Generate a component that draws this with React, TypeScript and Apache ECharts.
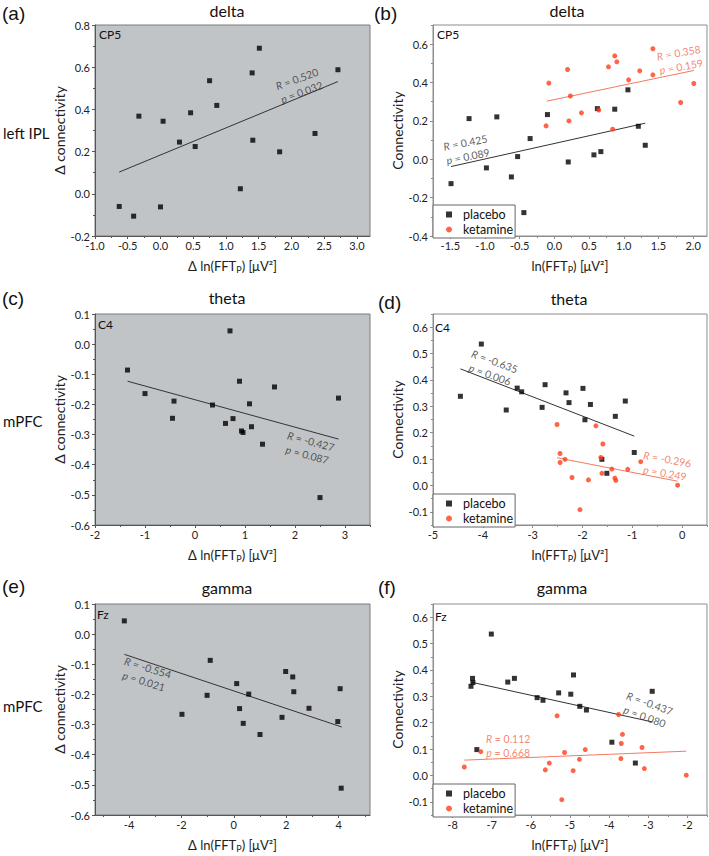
import React, { useEffect, useRef } from 'react';
import * as echarts from 'echarts';

const FONT = 'Lato, "Open Sans", sans-serif';

// ---------- (a) delta, left IPL, CP5 : Δ connectivity vs Δ ln(FFT_P)
const aDx = [-0.63, -0.41, -0.33, 0.0, 0.04, 0.29, 0.46, 0.53, 0.75, 0.86, 1.22, 1.4, 1.41, 1.51, 1.82, 2.36, 2.71];
const aDy = [-0.06, -0.106, 0.368, -0.062, 0.344, 0.245, 0.384, 0.224, 0.536, 0.419, 0.024, 0.573, 0.254, 0.69, 0.199, 0.286, 0.588];
const aFit = [[-0.63, 0.103], [2.71, 0.532]];
const aStats = ['0.520', '0.032'];

// ---------- (b) delta, CP5 : connectivity vs ln(FFT_P)
const bPx = [-1.49, -1.23, -0.98, -0.83, -0.62, -0.53, -0.44, -0.35, -0.1, 0.2, 0.57, 0.62, 0.67, 0.87, 1.06, 1.21, 1.31];
const bPy = [-0.127, 0.212, -0.045, 0.221, -0.092, 0.014, -0.278, 0.108, 0.233, -0.014, 0.023, 0.264, 0.04, 0.261, 0.362, 0.172, 0.073];
const bKx = [-0.12, -0.08, 0.19, 0.21, 0.23, 0.39, 0.64, 0.78, 0.84, 0.87, 0.9, 1.07, 1.23, 1.42, 1.42, 1.82, 2.01];
const bKy = [0.174, 0.397, 0.468, 0.2, 0.33, 0.242, 0.257, 0.482, 0.157, 0.539, 0.508, 0.414, 0.461, 0.576, 0.44, 0.296, 0.395];
const bFitP = [[-1.49, -0.038], [1.31, 0.188]];
const bFitK = [[-0.11, 0.303], [2.01, 0.463]];
const bStatsP = ['0.425', '0.089'];
const bStatsK = ['0.358', '0.159'];

// ---------- (c) theta, mPFC, C4
const cDx = [-1.35, -1.0, -0.42, -0.45, 0.35, 0.61, 0.7, 0.76, 0.89, 0.93, 0.96, 1.09, 1.13, 1.35, 1.59, 2.5, 2.87];
const cDy = [-0.086, -0.164, -0.189, -0.246, -0.202, -0.263, 0.044, -0.247, -0.123, -0.288, -0.293, -0.198, -0.274, -0.332, -0.142, -0.509, -0.179];
const cFit = [[-1.35, -0.123], [2.87, -0.315]];
const cStats = ['-0.427', '0.087'];

// ---------- (d) theta, C4
const dPx = [-4.45, -4.03, -3.53, -3.31, -3.22, -2.81, -2.75, -2.33, -2.27, -1.99, -1.95, -1.84, -1.61, -1.51, -1.34, -1.14, -0.96];
const dPy = [0.338, 0.536, 0.286, 0.369, 0.355, 0.296, 0.382, 0.351, 0.314, 0.368, 0.249, 0.307, 0.099, 0.046, 0.262, 0.32, 0.125];
const dKx = [-2.51, -2.45, -2.45, -2.35, -2.21, -2.05, -1.88, -1.73, -1.63, -1.61, -1.59, -1.41, -1.35, -1.33, -1.09, -0.83, -0.09];
const dKy = [0.231, 0.121, 0.087, 0.099, 0.03, -0.092, 0.021, 0.226, 0.106, 0.046, 0.157, 0.062, 0.028, 0.019, 0.061, 0.09, 0.001];
const dFitP = [[-4.45, 0.442], [-0.96, 0.187]];
const dFitK = [[-2.51, 0.105], [-0.09, 0.016]];
const dStatsP = ['-0.635', '0.006'];
const dStatsK = ['-0.296', '0.249'];

// ---------- (e) gamma, mPFC, Fz
const eDx = [-4.18, -1.98, -1.02, -0.9, 0.11, 0.22, 0.36, 0.57, 1.0, 1.84, 1.98, 2.25, 2.29, 2.87, 3.97, 4.06, 4.1];
const eDy = [0.044, -0.266, -0.203, -0.087, -0.164, -0.247, -0.296, -0.199, -0.333, -0.276, -0.124, -0.142, -0.191, -0.246, -0.29, -0.181, -0.511];
const eFit = [[-4.18, -0.067], [4.12, -0.308]];
const eStats = ['-0.554', '0.021'];

// ---------- (f) gamma, Fz
const fPx = [-7.53, -7.49, -7.48, -7.38, -7.01, -6.59, -6.42, -5.84, -5.69, -5.29, -4.98, -4.91, -4.75, -4.58, -3.93, -3.33, -2.9];
const fPy = [0.338, 0.368, 0.352, 0.098, 0.536, 0.354, 0.368, 0.295, 0.285, 0.313, 0.308, 0.381, 0.262, 0.248, 0.126, 0.047, 0.319];
const fKx = [-7.7, -7.28, -5.63, -5.53, -5.33, -5.21, -5.14, -4.92, -4.76, -4.61, -3.76, -3.7, -3.69, -3.66, -3.16, -3.1, -2.03];
const fKy = [0.032, 0.09, 0.021, 0.047, 0.226, -0.092, 0.087, 0.018, 0.061, 0.098, 0.231, 0.064, 0.121, 0.156, 0.106, 0.026, 0.001];
const fFitP = [[-7.53, 0.354], [-2.9, 0.203]];
const fFitK = [[-7.7, 0.058], [-2.03, 0.092]];
const fStatsP = ['-0.437', '0.080'];
const fStatsK = ['0.112', '0.668'];

// ---------- tick labels
const aXTicks = [-1.0, -0.5, 0.0, 0.5, 1.0, 1.5, 2.0, 2.5, 3.0];
const aYTicks = [-0.2, 0.0, 0.2, 0.4, 0.6, 0.8];
const bXTicks = [-1.5, -1.0, -0.5, 0.0, 0.5, 1.0, 1.5, 2.0];
const bYTicks = [-0.4, -0.2, 0.0, 0.2, 0.4, 0.6];
const cXTicks = [-2, -1, 0, 1, 2, 3];
const cYTicks = [-0.6, -0.5, -0.4, -0.3, -0.2, -0.1, 0.0, 0.1];
const dXTicks = [-5, -4, -3, -2, -1, 0];
const dYTicks = [-0.1, 0.0, 0.1, 0.2, 0.3, 0.4, 0.5, 0.6];
const eXTicks = [-4, -2, 0, 2, 4];
const eYTicks = [-0.6, -0.5, -0.4, -0.3, -0.2, -0.1, 0.0, 0.1];
const fXTicks = [-8, -7, -6, -5, -4, -3, -2];
const fYTicks = [-0.1, 0.0, 0.1, 0.2, 0.3, 0.4, 0.5, 0.6];

// ---------- layout
const LEFT = [95, 433];
const WID = [275, 274];
const TOP = [25, 314, 604];
const HGT = 211;

const GRAY_BG = '#c0c4c7';
const GRAY_AXIS = '#555';
const WHITE_AXIS = '#8c8c8c';
const RED = '#ff3d1c';
const RED_LINE = '#f57a60';
const RED_TEXT = '#ee6a50';
const BLACK_TEXT = '#333';

type PanelDef = {
  col: number; row: number; gray: boolean;
  xMin: number; xMax: number; yMin: number; yMax: number;
  xTicks: number[]; yTicks: number[]; xDec: number; yDec: number;
};

const panels: PanelDef[] = [
  { col: 0, row: 0, gray: true, xMin: -1, xMax: 3.2, yMin: -0.2, yMax: 0.8, xTicks: aXTicks, yTicks: aYTicks, xDec: 1, yDec: 1 },
  { col: 1, row: 0, gray: false, xMin: -1.75, xMax: 2.2, yMin: -0.4, yMax: 0.7, xTicks: bXTicks, yTicks: bYTicks, xDec: 1, yDec: 1 },
  { col: 0, row: 1, gray: true, xMin: -2, xMax: 3.5, yMin: -0.6, yMax: 0.1, xTicks: cXTicks, yTicks: cYTicks, xDec: 0, yDec: 1 },
  { col: 1, row: 1, gray: false, xMin: -5, xMax: 0.5, yMin: -0.15, yMax: 0.65, xTicks: dXTicks, yTicks: dYTicks, xDec: 0, yDec: 1 },
  { col: 0, row: 2, gray: true, xMin: -5.3, xMax: 5.2, yMin: -0.6, yMax: 0.1, xTicks: eXTicks, yTicks: eYTicks, xDec: 0, yDec: 1 },
  { col: 1, row: 2, gray: false, xMin: -8.5, xMax: -1.5, yMin: -0.15, yMax: 0.65, xTicks: fXTicks, yTicks: fYTicks, xDec: 0, yDec: 1 },
];

function minorTicks(ticks: number[], min: number, max: number): number[] {
  const step = ticks[1] - ticks[0];
  const out: number[] = [];
  const start = ticks[0] - step / 2;
  for (let v = start; v <= max + 1e-9; v += step) {
    if (v >= min - 1e-9) out.push(Math.round(v * 1000) / 1000);
  }
  return out;
}

const xNameRich = (delta: boolean) =>
  (delta ? '{n|Δ ln(FFT}' : '{n|ln(FFT}') + '{s|P}{n|) [μV²]}';

function buildOption() {
  const grid: any[] = [];
  const xAxis: any[] = [];
  const yAxis: any[] = [];
  panels.forEach((p, i) => {
    const axisColor = p.gray ? GRAY_AXIS : WHITE_AXIS;
    grid.push({
      left: LEFT[p.col], top: TOP[p.row], width: WID[p.col], height: HGT,
      show: true, backgroundColor: p.gray ? GRAY_BG : '#fff',
      borderColor: p.gray ? '#7a7d80' : WHITE_AXIS, borderWidth: 1,
    });
    const labelStyle = { fontSize: 11, fontFamily: FONT, color: '#222' };
    xAxis.push({
      type: 'value', gridIndex: i, min: p.xMin, max: p.xMax, position: 'bottom',
      name: xNameRich(p.gray), nameLocation: 'middle', nameGap: 22,
      nameTextStyle: {
        fontSize: 13, fontFamily: FONT, color: '#222',
        rich: {
          n: { fontSize: 13, fontFamily: FONT, color: '#222' },
          s: { fontSize: 9, fontFamily: FONT, color: '#222', padding: [7, 0, 0, 0] },
        },
      },
      axisLine: { show: true, onZero: false, lineStyle: { color: axisColor } },
      axisTick: { show: true, inside: false, length: 3, customValues: p.xTicks, lineStyle: { color: axisColor } },
      axisLabel: { ...labelStyle, margin: 4, customValues: p.xTicks, formatter: (v: number) => v.toFixed(p.xDec) },
      splitLine: { show: false },
    });
    yAxis.push({
      type: 'value', gridIndex: i, min: p.yMin, max: p.yMax, position: 'left',
      name: p.gray ? 'Δ connectivity' : 'Connectivity', nameLocation: 'middle', nameRotate: 90,
      nameGap: p.gray ? 22 : 27,
      nameTextStyle: { fontSize: 14, fontFamily: FONT, color: '#222' },
      axisLine: { show: true, onZero: false, lineStyle: { color: axisColor } },
      axisTick: { show: true, inside: false, length: 3, customValues: p.yTicks, lineStyle: { color: axisColor } },
      axisLabel: { ...labelStyle, margin: 5, customValues: p.yTicks, formatter: (v: number) => v.toFixed(p.yDec) },
      splitLine: { show: false },
    });
  });
  // minor tick axes (decoration only)
  panels.forEach((p, i) => {
    const axisColor = p.gray ? GRAY_AXIS : WHITE_AXIS;
    xAxis.push({
      type: 'value', gridIndex: i, min: p.xMin, max: p.xMax, position: 'bottom',
      axisLine: { show: false, onZero: false }, axisLabel: { show: false }, splitLine: { show: false },
      axisTick: { show: true, length: 2, customValues: minorTicks(p.xTicks, p.xMin, p.xMax), lineStyle: { color: axisColor } },
    });
    yAxis.push({
      type: 'value', gridIndex: i, min: p.yMin, max: p.yMax, position: 'left',
      axisLine: { show: false, onZero: false }, axisLabel: { show: false }, splitLine: { show: false },
      axisTick: { show: true, length: 2, customValues: minorTicks(p.yTicks, p.yMin, p.yMax), lineStyle: { color: axisColor } },
    });
  });

  const zip = (xs: number[], ys: number[]) => xs.map((x, k) => [x, ys[k]]);
  const scatter = (name: string, xs: number[], ys: number[], idx: number, symbol: string, color: string) => ({
    type: 'scatter', name, xAxisIndex: idx, yAxisIndex: idx, symbol, symbolSize: symbol === 'rect' ? 5 : 5,
    itemStyle: { color }, data: zip(xs, ys), z: 4,
  });
  const fit = (pts: number[][], idx: number, color: string) => ({
    type: 'line', name: 'fit', xAxisIndex: idx, yAxisIndex: idx, data: pts, symbol: 'none', silent: true,
    lineStyle: { color, width: 1 }, z: 3,
  });
  const annot = (pos: number[], stats: string[], rotate: number, color: string, idx: number) => ({
    type: 'scatter', name: 'stat', xAxisIndex: idx, yAxisIndex: idx, symbol: 'circle', symbolSize: 1, silent: true,
    itemStyle: { color: 'rgba(0,0,0,0)' }, data: [pos], z: 5,
    label: {
      show: true, position: 'inside', rotate, color, fontSize: 10.5, fontFamily: FONT, lineHeight: 14,
      formatter: `{i|R} = ${stats[0]}\n{i|p} = ${stats[1]}`,
      rich: { i: { fontStyle: 'italic', color, fontSize: 10.5, fontFamily: FONT, lineHeight: 14 } },
    },
  });

  const series: any[] = [
    // (a)
    scatter('delta-a', aDx, aDy, 0, 'rect', '#000'),
    fit(aFit, 0, BLACK_TEXT),
    annot([2.12, 0.513], aStats, 20, BLACK_TEXT, 0),
    // (b)
    scatter('placebo', bPx, bPy, 1, 'rect', '#000'),
    scatter('ketamine', bKx, bKy, 1, 'circle', RED),
    fit(bFitP, 1, BLACK_TEXT),
    fit(bFitK, 1, RED_LINE),
    annot([-1.265, 0.051], bStatsP, 11, BLACK_TEXT, 1),
    annot([1.81, 0.519], bStatsK, 10, RED_TEXT, 1),
    // (c)
    scatter('delta-c', cDx, cDy, 2, 'rect', '#000'),
    fit(cFit, 2, BLACK_TEXT),
    annot([2.28, -0.345], cStats, -15, BLACK_TEXT, 2),
    // (d)
    scatter('placebo', dPx, dPy, 3, 'rect', '#000'),
    scatter('ketamine', dKx, dKy, 3, 'circle', RED),
    fit(dFitP, 3, BLACK_TEXT),
    fit(dFitK, 3, RED_LINE),
    annot([-3.81, 0.445], dStatsP, -20, BLACK_TEXT, 3),
    annot([-0.32, 0.073], dStatsK, -10, RED_TEXT, 3),
    // (e)
    scatter('delta-e', eDx, eDy, 4, 'rect', '#000'),
    fit(eFit, 4, BLACK_TEXT),
    annot([-3.36, -0.134], eStats, -17, BLACK_TEXT, 4),
    // (f)
    scatter('placebo', fPx, fPy, 5, 'rect', '#000'),
    scatter('ketamine', fKx, fKy, 5, 'circle', RED),
    fit(fFitP, 5, BLACK_TEXT),
    fit(fFitK, 5, RED_LINE),
    annot([-3.03, 0.248], fStatsP, -20, BLACK_TEXT, 5),
    annot([-6.58, 0.11], fStatsK, 0, RED_TEXT, 5),
  ];

  const legend = [0, 1, 2].map((r) => ({
    left: LEFT[1], top: TOP[r] + HGT - 31, orient: 'vertical',
    backgroundColor: '#fff', borderColor: '#666', borderWidth: 1, borderRadius: 0,
    padding: [3, 2, 2, 13], itemGap: 2, itemWidth: 6, itemHeight: 6, selectedMode: false,
    textStyle: { fontSize: 12.5, fontFamily: FONT, color: '#111', lineHeight: 12, padding: [0, 0, 0, 6] },
    data: [{ name: 'placebo', icon: 'rect' }, { name: 'ketamine', icon: 'circle' }],
    z: 10,
  }));

  const txt = (text: string, x: number, y: number, size: number, align = 'left', family = FONT) => ({
    type: 'text', x, y, silent: true,
    style: { text, fontSize: size, fontFamily: family, fill: '#111', align, verticalAlign: 'middle' },
  });
  const ARIAL = '"Liberation Sans", Arial, sans-serif';
  const graphic: any[] = [
    txt('(a)', 2, 13, 19, 'left', ARIAL),
    txt('(b)', 374, 13, 19, 'left', ARIAL),
    txt('(c)', 2, 298, 19, 'left', ARIAL),
    txt('(d)', 378, 302, 19, 'left', ARIAL),
    txt('(e)', 2, 586, 19, 'left', ARIAL),
    txt('(f)', 378, 587, 19, 'left', ARIAL),
    txt('left IPL', 3, 133, 15),
    txt('mPFC', 3, 421, 15),
    txt('mPFC', 3, 706, 15),
    txt('delta', 227, 10, 16, 'center'),
    txt('delta', 567, 10, 16, 'center'),
    txt('theta', 227, 297, 16, 'center'),
    txt('theta', 569, 298, 16, 'center'),
    txt('gamma', 227, 587, 16, 'center'),
    txt('gamma', 562, 587, 16, 'center'),
    txt('CP5', LEFT[0] + 4, TOP[0] + 9, 12),
    txt('CP5', LEFT[1] + 4, TOP[0] + 9, 12),
    txt('C4', LEFT[0] + 3, TOP[1] + 10, 12),
    txt('C4', LEFT[1] + 2, TOP[1] + 13, 12),
    txt('Fz', LEFT[0] + 2, TOP[2] + 10, 12),
    txt('Fz', LEFT[1] + 2, TOP[2] + 12, 12),
  ];

  return {
    animation: false,
    backgroundColor: '#fff',
    textStyle: { fontFamily: FONT },
    grid, xAxis, yAxis, series, legend, graphic,
  };
}

export default function App() {
  const ref = useRef<HTMLDivElement>(null);
  useEffect(() => {
    if (!ref.current) return;
    const chart = echarts.init(ref.current, undefined, { renderer: 'svg' });
    chart.setOption(buildOption() as any);
    return () => chart.dispose();
  }, []);
  return (
    <div
      ref={ref}
      style={{ position: 'absolute', left: 0, top: 0, width: 709, height: 856, background: '#fff' }}
    />
  );
}
